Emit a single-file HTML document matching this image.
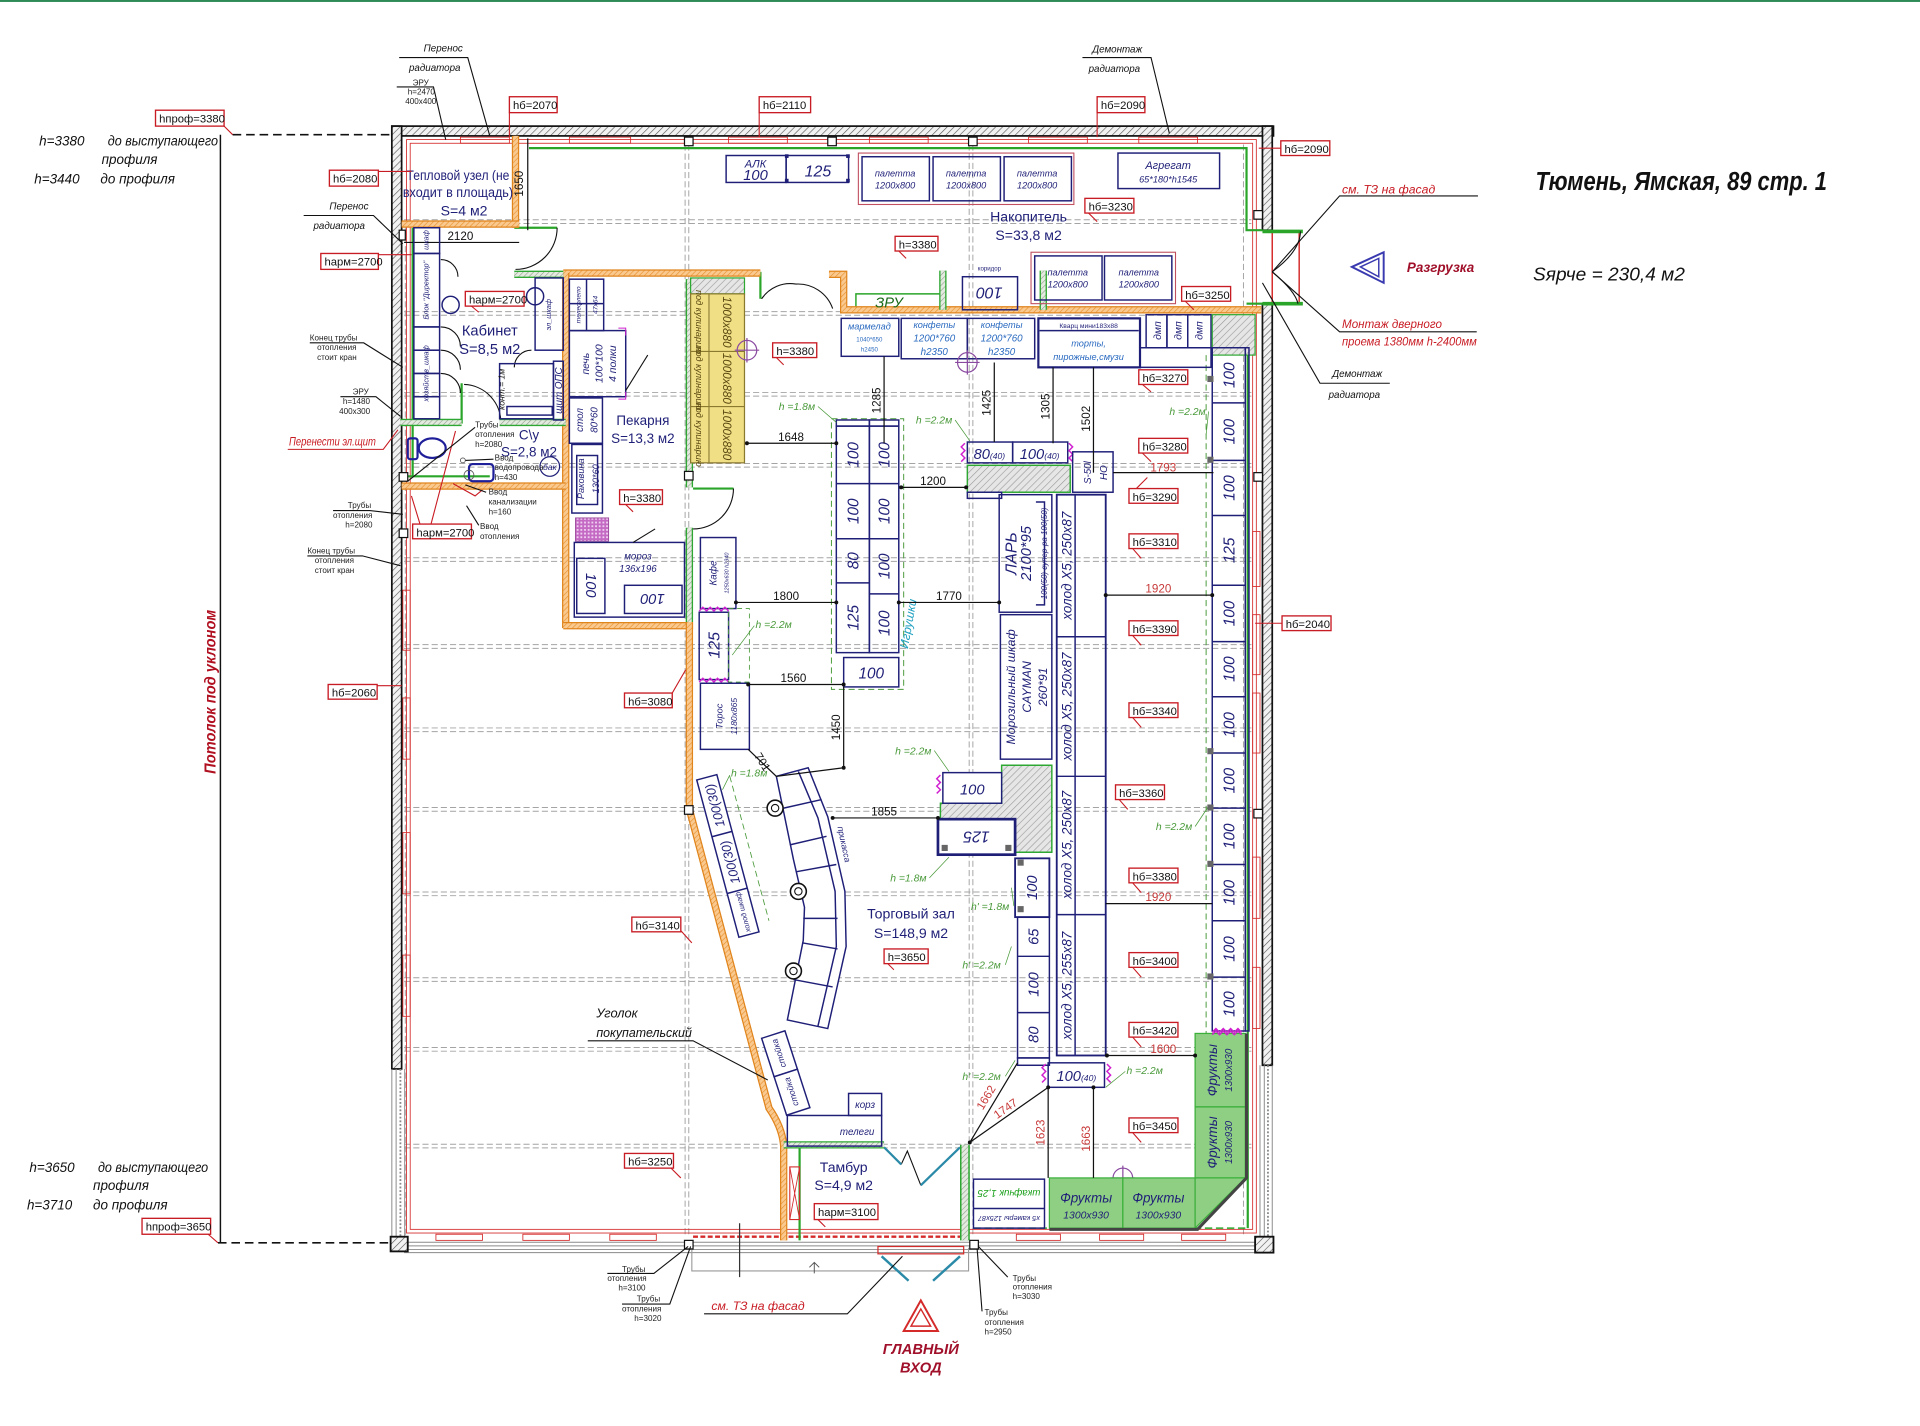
<!DOCTYPE html>
<html><head><meta charset="utf-8">
<style>
html,body{margin:0;padding:0;background:#fff;width:1920px;height:1426px;overflow:hidden}
svg{display:block}
text{font-family:"Liberation Sans","DejaVu Sans",sans-serif}
.tg rect{fill:#fff;stroke:#c81c24;stroke-width:1.1}
.tg text{font-size:9.2px;fill:#111}
.ld{stroke:#c81c24;stroke-width:0.9;fill:none}
.nv{fill:none;stroke:#1f1f78;stroke-width:1.2}
.nvf{fill:#fff;stroke:#1f1f78;stroke-width:1.2}
.nt{fill:#1f1f78;font-style:italic}
.dim{stroke:#111;stroke-width:1;fill:none}
.dt{font-size:9.5px;fill:#111}
.rt{font-size:9.5px;fill:#c83a3a}
.g{fill:#4a9a3a;font-style:italic;font-size:8.5px}
.gl{stroke:#4a9a3a;stroke-width:0.6;fill:none}
.grid{stroke:#a4a4a4;stroke-width:0.8;stroke-dasharray:5 2.5;fill:none}
.ann{font-size:6.6px;fill:#222}
.al{stroke:#111;stroke-width:0.9;fill:none}
.bl{font-style:italic;fill:#111}
.oo{fill:none;stroke:#e0841c;stroke-width:6}
.oi{fill:none;stroke:url(#ho);stroke-width:4}
.go{fill:none;stroke:#2ea832;stroke-width:6}
.gi{fill:none;stroke:url(#hgr);stroke-width:3.8}
.gt{fill:none;stroke:#2aa52a;stroke-width:1.8}
.red{fill:none;stroke:#d42a2a;stroke-width:0.7}
.col{fill:#fff;stroke:#111;stroke-width:1}
</style></head><body>
<svg xmlns="http://www.w3.org/2000/svg" width="1920" height="1426" viewBox="0 0 1568 1164.6" preserveAspectRatio="none">
<defs>
<pattern id="hx" width="4" height="4" patternUnits="userSpaceOnUse" patternTransform="rotate(45)"><rect width="4" height="4" fill="#f2f2f2"/><line x1="0" y1="0" x2="0" y2="4" stroke="#555" stroke-width="1"/></pattern>
<pattern id="ho" width="3" height="3" patternUnits="userSpaceOnUse" patternTransform="rotate(45)"><rect width="3" height="3" fill="#f9c98f"/><line x1="0" y1="0" x2="0" y2="3" stroke="#e8902c" stroke-width="1"/></pattern>
<pattern id="hgr" width="3" height="3" patternUnits="userSpaceOnUse" patternTransform="rotate(45)"><rect width="3" height="3" fill="#e4eae0"/><line x1="0" y1="0" x2="0" y2="3" stroke="#8a9a86" stroke-width="0.9"/></pattern>
<pattern id="hgy" width="4" height="4" patternUnits="userSpaceOnUse" patternTransform="rotate(45)"><rect width="4" height="4" fill="#e6e6e6"/><line x1="0" y1="0" x2="0" y2="4" stroke="#9a9a9a" stroke-width="1"/></pattern>
<pattern id="hpk" width="3" height="3" patternUnits="userSpaceOnUse"><rect width="3" height="3" fill="#c46ac4"/><rect x="0" y="0" width="1.5" height="1.5" fill="#efd0ef"/></pattern>
</defs>

<rect x="0" y="0" width="1568" height="1.6" fill="#2e8b57"/>

<!-- grid -->
<g class="grid">
<path d="M330,179.5H1022M330,182.5H1022 M330,254.5H1022M330,257.5H1022 M330,320.5H1022M330,323.5H1022 M330,378.5H1022M330,381.5H1022 M330,455.5H1022M330,458.5H1022 M330,526.5H1022M330,529.5H1022 M330,594.5H1022M330,597.5H1022 M330,659.5H1022M330,662.5H1022 M330,728.5H1022M330,731.5H1022 M330,798.5H1022M330,801.5H1022 M330,855.5H1022M330,858.5H1022 M330,934.5H1022M330,937.5H1022"/>
<path d="M331,186V1010 M559.5,118V1010M562.5,118V1010 M791.5,118V1010M794.5,118V1010 M1015.5,118V1010"/>
</g>

<!-- exterior walls -->
<rect x="320" y="103" width="720" height="8" fill="url(#hx)" stroke="#111" stroke-width="1.4"/>
<rect x="320" y="103" width="8" height="770" fill="url(#hx)" stroke="#111" stroke-width="1.4"/>
<rect x="1031" y="103" width="8" height="85" fill="url(#hx)" stroke="#111" stroke-width="1.4"/>
<rect x="1031" y="248" width="8" height="622" fill="url(#hx)" stroke="#111" stroke-width="1.4"/>
<g stroke="#8a8a8a" stroke-width="0.8" fill="none">
<path d="M320,873V1012M323.5,873V1012M330.5,873V1012"/>
<path d="M327,873V1012" stroke-dasharray="1.5 1.5" stroke-width="1.5"/>
<path d="M1029,870V1012M1032.5,870V1012M1039,870V1012"/>
<path d="M1035.5,870V1012" stroke-dasharray="1.5 1.5" stroke-width="1.5"/>
<path d="M330,1014.5H1026M330,1017.5H1026M330,1020.5H1026M330,1023H1026"/>
</g>
<rect x="319" y="1010" width="14" height="12" fill="url(#hx)" stroke="#111" stroke-width="1.5"/>
<rect x="1025" y="1010" width="15" height="13" fill="url(#hx)" stroke="#111" stroke-width="1.5"/>

<!-- red inner lines / radiators -->
<rect class="red" x="332" y="114" width="694" height="893"/>
<rect class="red" x="335" y="117" width="688" height="887"/>
<g class="red" stroke-width="0.9">
<rect x="376" y="112" width="40" height="5"/><rect x="465" y="112" width="50" height="5"/><rect x="595" y="112" width="48" height="5"/><rect x="710" y="112" width="48" height="5"/><rect x="840" y="112" width="48" height="5"/><rect x="930" y="112" width="48" height="5"/>
<rect x="329" y="482" width="6" height="49"/><rect x="329" y="570" width="6" height="50"/><rect x="329" y="680" width="6" height="50"/><rect x="329" y="780" width="6" height="50"/>
<rect x="1023" y="434" width="6" height="45"/><rect x="1023" y="502" width="6" height="49"/><rect x="1023" y="566" width="6" height="49"/><rect x="1023" y="700" width="6" height="50"/><rect x="1023" y="790" width="6" height="50"/>
<rect x="356" y="1008" width="38" height="5"/><rect x="427" y="1008" width="38" height="5"/><rect x="498" y="1008" width="38" height="5"/><rect x="830" y="1008" width="36" height="5"/><rect x="898" y="1008" width="36" height="5"/><rect x="965" y="1008" width="36" height="5"/>
<rect x="1039" y="189" width="22" height="59" stroke-width="1.2"/>
</g>
<path d="M566,1010H788" stroke="#d42a2a" stroke-width="2" stroke-dasharray="4 2"/>
<rect x="717" y="1018" width="70" height="6" fill="none" stroke="#d42a2a" stroke-width="1"/>
<path d="M565,1019V1038H791V1019" stroke="#999" stroke-width="0.9" fill="none"/>
<path d="M604,999V1043" stroke="#333" stroke-width="1"/>
<path d="M665,1040V1031M661,1035L665,1031L669,1035" stroke="#555" stroke-width="0.8" fill="none"/>

<!-- thin green lines -->
<g class="gt">
<path d="M432,121H1018V188H1031"/>
<path d="M1018,248H1031"/>
<path d="M1019,262V1003"/>
<path d="M337,186V390"/>
<path d="M330,389H400"/>
<path d="M420,186H455"/>
<path d="M566,399H599"/>
<path d="M621,222V244"/>
<path d="M653,937V1013"/>
<path d="M699,240H768V253H699Z" stroke-width="1.2"/>
<path d="M377,313V346"/>
</g>
<path d="M1031,189H1064M1031,248H1064" stroke="#2aa52a" stroke-width="3"/>
<path d="M795,1003H1019" stroke="#2aa52a" stroke-width="1.2" stroke-dasharray="6 3"/>
<path d="M985,290V845" stroke="#4a9a3a" stroke-width="0.8" stroke-dasharray="5 3"/>

<!-- door arcs -->
<g fill="none" stroke="#111" stroke-width="0.9">
<path d="M455,186A34,34 0 0 1 421,220"/>
<path d="M599,399A33,33 0 0 1 566,432"/>
<path d="M622,244A28,28 0 0 1 650,232M650,232A30,30 0 0 1 680,252"/>
<path d="M379,314A31,31 0 0 1 409,346"/>
<path d="M360,212A14,14 0 0 1 374,226M360,267A16,16 0 0 1 376,283M360,286A16,16 0 0 1 376,302M360,305A16,16 0 0 1 376,321"/>
<path d="M420,300A14,14 0 0 1 434,286"/>
<path d="M1039,222Q1062,205 1062,189M1039,222Q1058,238 1060,248"/>
<path d="M736,951L741,940L752,968"/>
</g>
<path d="M722,937L736,951M784,937L752,968" stroke="#2a8aa8" stroke-width="1.8"/>
<path d="M720,1026L742,1046M784,1026L762,1046" stroke="#2a8aa8" stroke-width="2"/>

<!-- orange walls -->
<g>
<path class="oo" d="M421,111V186"/><path class="oi" d="M421,111V186"/>
<path class="oo" d="M328,183H424"/><path class="oi" d="M328,183H424"/>
<path class="oo" d="M460,223H621"/><path class="oi" d="M460,223H621"/>
<path class="oo" d="M462,223V513"/><path class="oi" d="M462,223V513"/>
<path class="oo" d="M460,511H566"/><path class="oi" d="M460,511H566"/>
<path class="oo" d="M328,397H462"/><path class="oi" d="M328,397H462"/>
<path class="oo" d="M677,224H689V253H1030"/><path class="oi" d="M677,224H689V253H1030"/>
<path class="oo" d="M563,508V661L628,905Q639,921 640,936V1013"/><path class="oi" d="M563,508V661L628,905Q639,921 640,936V1013"/>
</g>
<!-- green hatched walls -->
<g>
<path class="go" d="M563,228V398"/><path class="gi" d="M563,228V398"/>
<path class="go" d="M563,431V508"/><path class="gi" d="M563,431V508"/>
<path class="go" d="M327,345H377"/><path class="gi" d="M327,345H377"/>
<path class="go" d="M408,345H462"/><path class="gi" d="M408,345H462"/>
<path class="go" d="M420,224H460"/><path class="gi" d="M420,224H460"/>
<path class="go" d="M640,935H722"/><path class="gi" d="M640,935H722"/>
<path class="go" d="M788,935V1013" style="stroke-width:8"/><path class="gi" d="M788,935V1013" style="stroke-width:5.5"/>
<path class="go" d="M770,221V253"/><path class="gi" d="M770,221V253"/>
<path class="go" d="M852,221V253"/><path class="gi" d="M852,221V253"/>
</g>

<!-- columns -->
<g class="col">
<rect x="559" y="112" width="7" height="7"/><rect x="676" y="112" width="7" height="7"/><rect x="791" y="112" width="7" height="7"/><rect x="1024" y="172" width="7" height="7"/>
<rect x="559" y="385" width="7" height="7"/><rect x="792" y="386" width="7" height="7"/><rect x="559" y="658" width="7" height="7"/><rect x="792" y="661" width="7" height="7"/>
<rect x="1024" y="386" width="7" height="7"/><rect x="1024" y="661" width="7" height="7"/><rect x="326" y="386" width="7" height="7"/><rect x="326" y="432" width="7" height="7"/>
<rect x="559" y="1013" width="7" height="7"/><rect x="792" y="1013" width="7" height="7"/><rect x="326" y="188" width="5" height="8"/>
</g>

<!-- ===== Storage ===== -->
<rect class="nv" x="593" y="127" width="49" height="22"/>
<text class="nt" x="617" y="137" font-size="9" text-anchor="middle">АЛК</text>
<text class="nt" x="617" y="147" font-size="12" text-anchor="middle">100</text>
<rect class="nv" x="642" y="127" width="51" height="22"/>
<text class="nt" x="668" y="144" font-size="13" text-anchor="middle">125</text>
<g fill="#1f1f78"><rect x="641" y="126" width="3" height="3"/><rect x="691" y="126" width="3" height="3"/><rect x="641" y="146" width="3" height="3"/><rect x="691" y="146" width="3" height="3"/></g>
<rect x="701" y="125" width="176" height="42" fill="none" stroke="#c05060" stroke-width="0.9"/>
<g class="nv"><rect x="704" y="128" width="55" height="36"/><rect x="762" y="128" width="55" height="36"/><rect x="820" y="128" width="55" height="36"/></g>
<g class="nt" font-size="7.5" text-anchor="middle">
<text x="731" y="144">палетта</text><text x="731" y="154">1200x800</text>
<text x="789" y="144">палетта</text><text x="789" y="154">1200x800</text>
<text x="847" y="144">палетта</text><text x="847" y="154">1200x800</text>
</g>
<rect class="nv" x="913" y="125" width="83" height="29"/>
<text class="nt" x="954" y="138" font-size="9" text-anchor="middle">Агрегат</text>
<text class="nt" x="954" y="149" font-size="7.5" text-anchor="middle">65*180*h1545</text>
<rect x="842" y="206" width="118" height="42" fill="none" stroke="#c05060" stroke-width="0.9"/>
<g class="nv"><rect x="845" y="209" width="55" height="36"/><rect x="902" y="209" width="55" height="36"/></g>
<g class="nt" font-size="7.5" text-anchor="middle">
<text x="872" y="225">палетта</text><text x="872" y="235">1200x800</text>
<text x="930" y="225">палетта</text><text x="930" y="235">1200x800</text>
</g>
<text x="840" y="181" font-size="11.5" fill="#1f1f78" text-anchor="middle">Накопитель</text>
<text x="840" y="196" font-size="11.5" fill="#1f1f78" text-anchor="middle">S=33,8 м2</text>
<text x="726" y="251" font-size="12" fill="#1a6a1a" font-style="italic" text-anchor="middle">ЗРУ</text>
<rect class="nv" x="786" y="226" width="45" height="27"/>
<text class="nt" font-size="13" text-anchor="middle" transform="translate(808,240) rotate(180)" dy="5">100</text>
<text x="808" y="221" font-size="5" fill="#1f1f78" text-anchor="middle">коридор</text>

<!-- top shelf row -->
<rect class="nv" x="687" y="260" width="47" height="31"/>
<text x="710" y="269" font-size="7.5" fill="#2a6ac0" font-style="italic" text-anchor="middle">мармелад</text>
<text x="710" y="279" font-size="5" fill="#2a6ac0" text-anchor="middle">1040*650</text>
<text x="710" y="287" font-size="5" fill="#2a6ac0" text-anchor="middle">h2450</text>
<rect class="nv" x="736" y="260" width="54" height="33"/><rect class="nv" x="790" y="260" width="55" height="33"/>
<g fill="#2a6ac0" font-style="italic" text-anchor="middle">
<text x="763" y="268" font-size="7.5">конфеты</text><text x="763" y="279" font-size="8">1200*760</text><text x="763" y="290" font-size="8">h2350</text>
<text x="818" y="268" font-size="7.5">конфеты</text><text x="818" y="279" font-size="8">1200*760</text><text x="818" y="290" font-size="8">h2350</text>
</g>
<rect x="848" y="260" width="83" height="40" fill="none" stroke="#1f1f78" stroke-width="1.8"/>
<path d="M849,270H930" class="nv"/>
<text x="889" y="268" font-size="5.5" fill="#1f1f78" text-anchor="middle">Кварц мини183x88</text>
<text x="889" y="283" font-size="7.5" fill="#2a6ac0" font-style="italic" text-anchor="middle">торты,</text>
<text x="889" y="294" font-size="7.5" fill="#2a6ac0" font-style="italic" text-anchor="middle">пирожные,смузи</text>
<g class="nv"><rect x="936" y="257" width="17" height="27"/><rect x="953" y="257" width="17" height="27"/><rect x="970" y="257" width="19" height="27"/><rect x="931" y="284" width="58" height="16"/></g>
<g class="nt" font-size="8.5" text-anchor="middle">
<text transform="translate(945,270) rotate(-90)" dy="3">дмп</text><text transform="translate(962,270) rotate(-90)" dy="3">дмп</text><text transform="translate(979,270) rotate(-90)" dy="3">дмп</text>
</g>
<rect x="990" y="257" width="35" height="33" fill="url(#hgy)" stroke="#2ea832" stroke-width="1"/>

<!-- right column shelves -->
<rect class="nv" x="990" y="284" width="27" height="558"/>
<rect class="nv" x="1017" y="284" width="3" height="558" stroke-width="0.8"/>
<path class="nv" d="M990,329H1017M990,376H1017M990,421H1017M990,478H1017M990,524H1017M990,569H1017M990,615H1017M990,660H1017M990,706H1017M990,752H1017M990,798H1017"/>
<g fill="#666"><rect x="986" y="307" width="5" height="5"/><rect x="986" y="373" width="5" height="5"/><rect x="986" y="611" width="5" height="5"/><rect x="986" y="657" width="5" height="5"/><rect x="986" y="703" width="5" height="5"/><rect x="986" y="795" width="5" height="5"/></g>
<g class="nt" font-size="12.5" text-anchor="middle">
<text transform="translate(1003.5,306.5) rotate(-90)" dy="4.5">100</text>
<text transform="translate(1003.5,352.5) rotate(-90)" dy="4.5">100</text>
<text transform="translate(1003.5,398.5) rotate(-90)" dy="4.5">100</text>
<text transform="translate(1003.5,449.5) rotate(-90)" dy="4.5">125</text>
<text transform="translate(1003.5,501) rotate(-90)" dy="4.5">100</text>
<text transform="translate(1003.5,546.5) rotate(-90)" dy="4.5">100</text>
<text transform="translate(1003.5,592) rotate(-90)" dy="4.5">100</text>
<text transform="translate(1003.5,637.5) rotate(-90)" dy="4.5">100</text>
<text transform="translate(1003.5,683) rotate(-90)" dy="4.5">100</text>
<text transform="translate(1003.5,729) rotate(-90)" dy="4.5">100</text>
<text transform="translate(1003.5,775) rotate(-90)" dy="4.5">100</text>
<text transform="translate(1003.5,820) rotate(-90)" dy="4.5">100</text>
</g>
<path d="M990,843l3,-3l3,3l3,-3l3,3l3,-3l3,3l3,-3l3,3" stroke="#d020d0" stroke-width="1.2" fill="none"/>

<!-- ===== Bakery / Pekarnya ===== -->
<rect x="564" y="227" width="44" height="13" fill="url(#hgy)" stroke="#2ea832" stroke-width="1"/>
<rect x="564" y="240" width="44" height="138" fill="#f1df86" stroke="#8a7a30" stroke-width="1"/>
<path d="M579,240V378M564,287H608M564,332H608" stroke="#8a7a30" stroke-width="0.9"/>
<g fill="#5a4a10" font-style="italic" text-anchor="middle">
<text transform="translate(571.5,263) rotate(90)" dy="3" font-size="7.5">под кулинарию</text>
<text transform="translate(571.5,309) rotate(90)" dy="3" font-size="7.5">под кулинарию</text>
<text transform="translate(571.5,355) rotate(90)" dy="3" font-size="7.5">под кулинарию</text>
<text transform="translate(594,263) rotate(90)" dy="3.5" font-size="9.5">1000x880</text>
<text transform="translate(594,309) rotate(90)" dy="3.5" font-size="9.5">1000x880</text>
<text transform="translate(594,355) rotate(90)" dy="3.5" font-size="9.5">1000x880</text>
</g>
<rect class="nv" x="465" y="228" width="28" height="42"/><path class="nv" d="M479,228V270M465,248H493"/>
<text class="nt" font-size="5.5" text-anchor="middle" transform="translate(472,249) rotate(-90)" dy="2">телефлепо</text>
<text class="nt" font-size="5.5" text-anchor="middle" transform="translate(486,249) rotate(-90)" dy="2">47x64</text>
<rect class="nv" x="465" y="270" width="46" height="54"/>
<path d="M505,268H511V274M505,326H511V320" stroke="#d020d0" stroke-width="0.8" fill="none"/>
<g class="nt" font-size="8.5" text-anchor="middle">
<text transform="translate(478,297) rotate(-90)" dy="3">печь</text>
<text transform="translate(489,297) rotate(-90)" dy="3">100*100</text>
<text transform="translate(500,297) rotate(-90)" dy="3">4 полки</text>
</g>
<path class="al" d="M511,319L529,290"/>
<rect class="nv" x="465" y="325" width="27" height="37"/>
<text class="nt" font-size="8" text-anchor="middle" transform="translate(473,343) rotate(-90)" dy="3">стол</text>
<text class="nt" font-size="8" text-anchor="middle" transform="translate(485,343) rotate(-90)" dy="3">80*60</text>
<rect class="nv" x="467" y="363" width="25" height="56"/><rect class="nv" x="471" y="372" width="17" height="40"/>
<text class="nt" font-size="7.5" text-anchor="middle" transform="translate(474,391) rotate(-90)" dy="3">Раковина</text>
<text class="nt" font-size="7.5" text-anchor="middle" transform="translate(486,391) rotate(-90)" dy="3">130*60</text>
<rect x="470" y="423" width="27" height="19" fill="url(#hpk)" stroke="#a050a0" stroke-width="0.8"/>
<rect class="nv" x="469" y="443" width="90" height="61"/>
<rect class="nv" x="471" y="456" width="23" height="45"/>
<rect class="nv" x="510" y="478" width="47" height="23"/>
<text class="nt" font-size="12" text-anchor="middle" transform="translate(482.5,478) rotate(90)" dy="4">100</text>
<text class="nt" font-size="12" text-anchor="middle" transform="translate(533,489) rotate(180)" dy="4">100</text>
<text class="nt" font-size="8" text-anchor="middle" x="521" y="457">мороз</text>
<text class="nt" font-size="8" text-anchor="middle" x="521" y="467">136x196</text>
<path class="al" d="M517,443L535,432"/>
<text x="525" y="347" font-size="11" fill="#1f1f78" text-anchor="middle">Пекарня</text>
<text x="525" y="362" font-size="11" fill="#1f1f78" text-anchor="middle">S=13,3 м2</text>

<!-- ===== Kabinet / SU / Teplovoy ===== -->
<text x="374" y="147" font-size="11.5" fill="#1f1f78" text-anchor="middle" textLength="84" lengthAdjust="spacingAndGlyphs">Тепловой узел (не</text>
<text x="374" y="161" font-size="11.5" fill="#1f1f78" text-anchor="middle" textLength="90" lengthAdjust="spacingAndGlyphs">входит в площадь)</text>
<text x="379" y="176" font-size="11.5" fill="#1f1f78" text-anchor="middle">S=4 м2</text>
<path class="dim" d="M431,113V188"/>
<text class="dt" text-anchor="middle" transform="translate(427,150) rotate(-90)">1650</text>
<path class="dim" d="M330,198H424"/>
<text class="dt" x="376" y="196" text-anchor="middle">2120</text>
<g class="nv">
<rect x="338" y="186" width="21" height="21"/><rect x="338" y="207" width="21" height="60"/><rect x="338" y="267" width="21" height="19"/><rect x="338" y="286" width="21" height="19"/><rect x="338" y="305" width="21" height="19"/><rect x="338" y="324" width="21" height="18"/>
<circle cx="368" cy="249" r="7"/>
<rect x="437" y="227" width="23" height="59"/><circle cx="437" cy="242" r="7"/>
<rect x="408" y="297" width="44" height="45"/><rect x="414" y="332" width="37" height="7"/>
<rect x="452" y="295" width="8" height="48"/>
</g>
<g class="nt" font-size="6" text-anchor="middle">
<text transform="translate(348,196) rotate(-90)" dy="2">шкаф</text>
<text transform="translate(348,237) rotate(-90)" dy="2">Блок "Директор"</text>
<text transform="translate(348,305) rotate(-90)" dy="2">хозяйств_шкаф</text>
<text transform="translate(448,257) rotate(-90)" dy="2">эл_шкаф</text>
<text transform="translate(456,319) rotate(-90)" dy="3" font-size="8">щит ОПС</text>
<text transform="translate(410,318) rotate(-90)" dy="2" font-size="7" fill="#111">конт.= 1м</text>
</g>
<text x="400" y="274" font-size="12" fill="#1f1f78" text-anchor="middle">Кабинет</text>
<text x="400" y="289" font-size="12" fill="#1f1f78" text-anchor="middle">S=8,5 м2</text>
<text x="432" y="359" font-size="11" fill="#1f1f78" text-anchor="middle">С\у</text>
<text x="432" y="373" font-size="11" fill="#1f1f78" text-anchor="middle">S=2,8 м2</text>
<g fill="none" stroke="#1f1f9a" stroke-width="1.8">
<rect x="333" y="358" width="8" height="17" rx="2"/><ellipse cx="353" cy="366" rx="11" ry="8"/>
<rect x="383" y="379" width="20" height="14" rx="3"/>
</g>
<circle cx="449" cy="381" r="8" fill="none" stroke="#1f1f78" stroke-width="1"/>
<text x="449" y="384" font-size="7" fill="#1f1f78" font-style="italic" text-anchor="middle">бак</text>

<!-- ===== Center gondolas ===== -->
<rect x="679" y="342" width="59" height="221" fill="none" stroke="#4a9a3a" stroke-width="0.8" stroke-dasharray="5 3"/>
<rect class="nv" x="683" y="348" width="27" height="185"/><rect class="nv" x="710" y="348" width="24" height="185"/>
<path class="nv" d="M683,395H710M683,440H710M683,476H710M710,395H734M710,440H734M710,485H734"/>
<g class="nv" stroke-width="0.8"><rect x="683" y="343" width="27" height="5"/><rect x="710" y="343" width="24" height="5"/></g>
<g class="nt" font-size="12.5" text-anchor="middle">
<text transform="translate(696.5,371.5) rotate(-90)" dy="4.5">100</text>
<text transform="translate(696.5,417.5) rotate(-90)" dy="4.5">100</text>
<text transform="translate(696.5,458) rotate(-90)" dy="4.5">80</text>
<text transform="translate(696.5,504.5) rotate(-90)" dy="4.5">125</text>
<text transform="translate(722,371.5) rotate(-90)" dy="4.5">100</text>
<text transform="translate(722,417.5) rotate(-90)" dy="4.5">100</text>
<text transform="translate(722,462.5) rotate(-90)" dy="4.5">100</text>
<text transform="translate(722,509) rotate(-90)" dy="4.5">100</text>
</g>
<rect class="nv" x="689" y="537" width="45" height="24"/>
<text class="nt" x="711.5" y="554" font-size="12.5" text-anchor="middle">100</text>
<text transform="translate(745,510) rotate(-80)" font-size="10" fill="#20a0c0" font-style="italic" text-anchor="middle">Игрушки</text>

<!-- left column (Kafe etc) -->
<rect class="nv" x="572" y="439" width="29" height="58"/>
<text class="nt" font-size="8" text-anchor="middle" transform="translate(582,468) rotate(-90)" dy="3">Кафе</text>
<text class="nt" font-size="4.5" text-anchor="middle" transform="translate(593,468) rotate(-90)" dy="2">1250x630 h2340</text>
<rect class="nv" x="571" y="500" width="24" height="55"/>
<text class="nt" font-size="13" text-anchor="middle" transform="translate(583,527) rotate(-90)" dy="4.5">125</text>
<path d="M571,499l3,-3l3,3l3,-3l3,3l3,-3l3,3l3,-3l3,3M571,557l3,-3l3,3l3,-3l3,3l3,-3l3,3l3,-3l3,3" stroke="#d020d0" stroke-width="1.2" fill="none"/>
<rect x="595" y="497" width="17" height="60" fill="none" stroke="#4a9a3a" stroke-width="0.7" stroke-dasharray="4 3"/>
<rect class="nv" x="572" y="558" width="40" height="54"/>
<text class="nt" font-size="7.5" text-anchor="middle" transform="translate(587,585) rotate(-90)" dy="3">Торос</text>
<text class="nt" font-size="7" text-anchor="middle" transform="translate(599,585) rotate(-90)" dy="3">1180x865</text>

<!-- crosshairs -->
<g fill="none" stroke="#8a4aa0" stroke-width="1">
<circle cx="610" cy="286" r="8"/><path d="M600,286H620M610,276V296"/>
<circle cx="790" cy="296" r="8"/><path d="M780,296H800M790,286V306"/>
<circle cx="917" cy="962" r="8"/><path d="M907,962H927M917,952V972"/>
</g>

<!-- 80/100(40) and chest etc -->
<rect class="nv" x="790" y="361" width="37" height="17"/><rect class="nv" x="827" y="361" width="45" height="17"/>
<text class="nt" x="808" y="375" font-size="12" text-anchor="middle">80<tspan font-size="7">(40)</tspan></text>
<text class="nt" x="849" y="375" font-size="12" text-anchor="middle">100<tspan font-size="7">(40)</tspan></text>
<path d="M788,362l-3,3l3,3l-3,3l3,3l-3,3M873,362l3,3l-3,3l3,3l-3,3l3,3" stroke="#d020d0" stroke-width="1.2" fill="none"/>
<rect x="790" y="380" width="84" height="22" fill="url(#hgy)" stroke="#2ea832" stroke-width="1.2"/>
<rect class="nv" x="790" y="402" width="28" height="5" stroke-width="0.8"/>
<rect class="nv" x="876" y="369" width="33" height="33"/>
<text class="nt" font-size="8" text-anchor="middle" transform="translate(888,386) rotate(-90)" dy="3">S-50l</text>
<text class="nt" font-size="8" text-anchor="middle" transform="translate(901,386) rotate(-90)" dy="3">НО</text>
<rect class="nv" x="816" y="404" width="43" height="96"/>
<path class="nv" d="M846,410H853V494H846" stroke-width="0.7"/>
<g class="nt" text-anchor="middle">
<text transform="translate(826,452) rotate(-90)" dy="4" font-size="13">ЛАРЬ</text>
<text transform="translate(838,452) rotate(-90)" dy="4" font-size="12">2100*95</text>
<text transform="translate(852,452) rotate(-90)" dy="3" font-size="6.5">100(50) супер-ра 100(50)</text>
</g>
<rect class="nv" x="817" y="502" width="42" height="118"/>
<g class="nt" text-anchor="middle">
<text transform="translate(825,561) rotate(-90)" dy="4" font-size="10">Морозильный шкаф</text>
<text transform="translate(838,561) rotate(-90)" dy="4" font-size="10">CAYMAN</text>
<text transform="translate(851,561) rotate(-90)" dy="4" font-size="10">260*91</text>
</g>
<rect x="863" y="404" width="40" height="458" fill="none" stroke="#1f1f78" stroke-width="1.5"/>
<path class="nv" d="M878,404V862M863,520H903M863,634H903M863,747H903"/>
<g class="nt" font-size="11" text-anchor="middle">
<text transform="translate(871,462) rotate(-90)" dy="4">холод X5, 250x87</text>
<text transform="translate(871,577) rotate(-90)" dy="4">холод X5, 250x87</text>
<text transform="translate(871,690) rotate(-90)" dy="4">холод X5, 250x87</text>
<text transform="translate(871,805) rotate(-90)" dy="4">холод X5, 255x87</text>
</g>

<!-- hatched L + 100 + 125 -->
<polygon points="768,656 818,656 818,625 859,625 859,696 829,696 829,669 768,669" fill="url(#hgy)" stroke="#2ea832" stroke-width="1.2"/>
<rect class="nvf" x="770" y="631" width="48" height="25"/>
<text class="nt" x="794" y="649" font-size="12" text-anchor="middle">100</text>
<path d="M768,633l-3,3l3,3l-3,3l3,3l-3,3" stroke="#d020d0" stroke-width="1.2" fill="none"/>
<rect x="766" y="669" width="63" height="29" fill="#fff" stroke="#1f1f78" stroke-width="2.2"/>
<text class="nt" font-size="13" text-anchor="middle" transform="translate(797.5,683.5) rotate(180)" dy="4.5">125</text>
<g fill="#666"><rect x="769" y="690" width="5" height="5"/><rect x="821" y="690" width="5" height="5"/><rect x="831" y="702" width="5" height="5"/><rect x="831" y="740" width="5" height="5"/></g>
<rect x="829" y="701" width="28" height="48" fill="none" stroke="#1f1f78" stroke-width="1.5"/>
<text class="nt" font-size="12" text-anchor="middle" transform="translate(843,725) rotate(-90)" dy="4">100</text>
<rect class="nv" x="831" y="749" width="26" height="115"/>
<path class="nv" d="M831,781H857M831,827H857"/>
<rect class="nv" x="831" y="864" width="26" height="6" stroke-width="0.8"/>
<g class="nt" font-size="12" text-anchor="middle">
<text transform="translate(844,765) rotate(-90)" dy="4">65</text>
<text transform="translate(844,804) rotate(-90)" dy="4">100</text>
<text transform="translate(844,845) rotate(-90)" dy="4">80</text>
</g>
<rect class="nv" x="856" y="868" width="46" height="20"/>
<text class="nt" x="879" y="883" font-size="12" text-anchor="middle">100<tspan font-size="7">(40)</tspan></text>
<path d="M854,869l-3,3l3,3l-3,3l3,3l-3,3M904,869l3,3l-3,3l3,3l-3,3l3,3" stroke="#d020d0" stroke-width="1.2" fill="none"/>

<!-- fruits -->
<g fill="#8fcf83" stroke="#3ab03a" stroke-width="1">
<rect x="976" y="844" width="41" height="60"/><rect x="976" y="904" width="41" height="58"/>
<rect x="857" y="962" width="60" height="41"/><rect x="917" y="962" width="59" height="41"/>
<polygon points="976,962 1017,962 976,1003"/>
</g>
<path d="M1018,844V962L978,1004H857" stroke="#444" stroke-width="2.5" fill="none"/>
<path d="M990,845l3,-3l3,3l3,-3l3,3l3,-3l3,3l3,-3l3,3" stroke="#d020d0" stroke-width="1.2" fill="none"/>
<g class="nt" text-anchor="middle">
<text transform="translate(990,874) rotate(-90)" dy="4" font-size="11">Фрукты</text>
<text transform="translate(1003,874) rotate(-90)" dy="3" font-size="8">1300x930</text>
<text transform="translate(990,933) rotate(-90)" dy="4" font-size="11">Фрукты</text>
<text transform="translate(1003,933) rotate(-90)" dy="3" font-size="8">1300x930</text>
<text x="887" y="982" font-size="11">Фрукты</text><text x="887" y="995" font-size="8.5">1300x930</text>
<text x="946" y="982" font-size="11">Фрукты</text><text x="946" y="995" font-size="8.5">1300x930</text>
</g>
<rect class="nv" x="795" y="963" width="58" height="40"/><path class="nv" d="M795,987H853"/>
<text font-size="8" fill="#1aa01a" font-style="italic" text-anchor="middle" transform="translate(824,975) rotate(180)" dy="3">шкафчик 1,25</text>
<text font-size="6" fill="#1f1f78" font-style="italic" text-anchor="middle" transform="translate(824,995) rotate(180)" dy="2">x5 камеры 125x87</text>

<!-- checkout -->
<polygon class="nvf" points="634,634 660,627 676,667 690,728 691,773 676,840 643,833 656,768 657,741 648,702"/>
<path class="nv" d="M652,630L668,668L682,728L683,773L668,838 M640,660L671,653 M645,690L675,683 M650,712L683,706 M656,750L684,750 M655,770L684,775 M648,800L680,806" stroke-width="1"/>
<g fill="#fff" stroke="#111" stroke-width="1.3">
<circle cx="633" cy="660" r="6.5"/><circle cx="652" cy="728" r="6.5"/><circle cx="648" cy="793" r="6.5"/>
</g>
<g fill="none" stroke="#111" stroke-width="0.9"><circle cx="633" cy="660" r="3"/><circle cx="652" cy="728" r="3"/><circle cx="648" cy="793" r="3"/></g>
<text transform="translate(687,690) rotate(78)" font-size="7" fill="#1f1f78" font-style="italic" text-anchor="middle">прикасса</text>
<g transform="translate(569,637) rotate(-15)">
<rect class="nvf" x="0" y="0" width="17" height="133"/>
<path class="nv" d="M0,48H17M0,96H17"/>
<text class="nt" font-size="10.5" text-anchor="middle" transform="translate(8.5,24) rotate(-90)" dy="4">100(30)</text>
<text class="nt" font-size="10.5" text-anchor="middle" transform="translate(8.5,72) rotate(-90)" dy="4">100(30)</text>
<text class="nt" font-size="6" text-anchor="middle" transform="translate(8.5,114) rotate(-90)" dy="2">холод шкаф</text>
</g>
<path d="M596,634L628,752" stroke="#4a9a3a" stroke-width="0.7" stroke-dasharray="5 3"/>
<g transform="translate(622,848) rotate(-18)">
<rect class="nvf" x="0" y="0" width="20" height="33"/><rect class="nvf" x="0" y="33" width="20" height="33"/>
<text class="nt" font-size="7" text-anchor="middle" transform="translate(10,16) rotate(-90)" dy="2">стойка</text>
<text class="nt" font-size="7" text-anchor="middle" transform="translate(10,49) rotate(-90)" dy="2">стойка</text>
</g>
<rect class="nv" x="693" y="893" width="27" height="18"/>
<text class="nt" x="706.5" y="905" font-size="8" text-anchor="middle">корз</text>
<rect class="nv" x="643" y="911" width="77" height="25"/>
<text class="nt" x="700" y="927" font-size="8" text-anchor="middle">телеги</text>
<rect x="645" y="953" width="8" height="43" fill="none" stroke="#d42a2a" stroke-width="0.9"/>
<path d="M645,953L653,996M653,953L645,996" stroke="#d42a2a" stroke-width="0.7"/>

<text x="744" y="750" font-size="11.5" fill="#1f1f78" text-anchor="middle">Торговый зал</text>
<text x="744" y="766" font-size="11.5" fill="#1f1f78" text-anchor="middle">S=148,9 м2</text>
<text x="689" y="957" font-size="11.5" fill="#1f1f78" text-anchor="middle">Тамбур</text>
<text x="689" y="972" font-size="11.5" fill="#1f1f78" text-anchor="middle">S=4,9 м2</text>

<!-- dimensions -->
<g class="dim">
<path d="M610,362H683M722,291V362M812,296V361M860,300V362M893,300V386M909,386H991M736,398H789"/>
<path d="M601,492H683M734,492H816M611,559H689M689,561V627M611,612L634,634L689,627"/>
<path d="M680,668H766M903,486H990M903,738H990M904,862H976M856,888V962M893,888V962M792,933L831,868M792,933L856,888"/>
</g>
<g fill="#111"><circle cx="610" cy="362" r="1.6"/><circle cx="683" cy="362" r="1.6"/><circle cx="601" cy="492" r="1.6"/><circle cx="683" cy="492" r="1.6"/><circle cx="734" cy="492" r="1.6"/><circle cx="816" cy="492" r="1.6"/><circle cx="611" cy="559" r="1.6"/><circle cx="689" cy="559" r="1.6"/><circle cx="689" cy="627" r="1.6"/><circle cx="680" cy="668" r="1.6"/><circle cx="766" cy="668" r="1.6"/><circle cx="736" cy="398" r="1.6"/><circle cx="789" cy="398" r="1.6"/><circle cx="903" cy="486" r="1.6"/><circle cx="990" cy="486" r="1.6"/><circle cx="856" cy="888" r="1.6"/><circle cx="893" cy="888" r="1.6"/><circle cx="792" cy="933" r="1.6"/><circle cx="976" cy="862" r="1.6"/><circle cx="904" cy="862" r="1.6"/></g>
<text class="dt" x="646" y="360" text-anchor="middle">1648</text>
<text class="dt" text-anchor="middle" transform="translate(719,327) rotate(-90)">1285</text>
<text class="dt" text-anchor="middle" transform="translate(809,329) rotate(-90)">1425</text>
<text class="dt" text-anchor="middle" transform="translate(857,332) rotate(-90)">1305</text>
<text class="dt" text-anchor="middle" transform="translate(890,342) rotate(-90)">1502</text>
<text class="rt" x="950" y="385" text-anchor="middle">1793</text>
<text class="dt" x="762" y="396" text-anchor="middle">1200</text>
<text class="dt" x="642" y="490" text-anchor="middle">1800</text>
<text class="dt" x="775" y="490" text-anchor="middle">1770</text>
<text class="dt" x="648" y="557" text-anchor="middle">1560</text>
<text class="dt" text-anchor="middle" transform="translate(686,594) rotate(-90)">1450</text>
<text class="dt" text-anchor="middle" transform="translate(620,624) rotate(58)">701</text>
<text class="dt" x="722" y="666" text-anchor="middle">1855</text>
<text class="rt" x="946" y="484" text-anchor="middle">1920</text>
<text class="rt" x="946" y="736" text-anchor="middle">1920</text>
<text class="rt" x="950" y="860" text-anchor="middle">1600</text>
<text class="rt" text-anchor="middle" transform="translate(853,925) rotate(-90)">1623</text>
<text class="rt" text-anchor="middle" transform="translate(890,930) rotate(-90)">1663</text>
<text class="rt" text-anchor="middle" transform="translate(808,898) rotate(-59)">1662</text>
<text class="rt" text-anchor="middle" transform="translate(823,908) rotate(-35)">1747</text>

<!-- green h labels -->
<g>
<text class="g" x="636" y="335">h =1.8м</text><path class="gl" d="M668,332L683,345"/>
<text class="g" x="748" y="346">h =2.2м</text><path class="gl" d="M780,343L792,360"/>
<text class="g" x="955" y="339">h =2.2м</text><path class="gl" d="M987,336L985,355"/>
<text class="g" x="617" y="513">h =2.2м</text><path class="gl" d="M616,511L598,535"/>
<text class="g" x="731" y="616">h =2.2м</text><path class="gl" d="M763,613L775,630"/>
<text class="g" x="597" y="634">h =1.8м</text><path class="gl" d="M596,633L590,645"/>
<text class="g" x="727" y="720">h =1.8м</text><path class="gl" d="M759,717L775,700"/>
<text class="g" x="793" y="743">h' =1.8м</text><path class="gl" d="M828,740L826,725"/>
<text class="g" x="786" y="791">h' =2.2м</text><path class="gl" d="M821,788L826,773"/>
<text class="g" x="944" y="678">h =2.2м</text><path class="gl" d="M976,675L986,660"/>
<text class="g" x="786" y="882">h' =2.2м</text><path class="gl" d="M821,879L829,866"/>
<text class="g" x="920" y="877">h =2.2м</text><path class="gl" d="M919,875L903,888"/>
</g>

<!-- ===== red tags ===== -->
<g class="tg">
<rect x="127" y="90" width="56" height="13"/><text x="130" y="100">hпроф=3380</text>
<rect x="116" y="995" width="56" height="13"/><text x="119" y="1005">hпроф=3650</text>
<rect x="416" y="79" width="39" height="13"/><text x="419" y="89">hб=2070</text>
<rect x="620" y="79" width="42" height="13"/><text x="623" y="89">hб=2110</text>
<rect x="896" y="79" width="39" height="13"/><text x="899" y="89">hб=2090</text>
<rect x="1046" y="115" width="40" height="12"/><text x="1049" y="125">hб=2090</text>
<rect x="269" y="139" width="40" height="13"/><text x="272" y="149">hб=2080</text>
<rect x="262" y="207" width="47" height="13"/><text x="265" y="217">hарм=2700</text>
<rect x="380" y="238" width="48" height="12"/><text x="383" y="248">hарм=2700</text>
<rect x="337" y="428" width="48" height="12"/><text x="340" y="438">hарм=2700</text>
<rect x="506" y="400" width="35" height="12"/><text x="509" y="410">h=3380</text>
<rect x="510" y="566" width="39" height="12"/><text x="513" y="576">hб=3080</text>
<rect x="268" y="559" width="40" height="12"/><text x="271" y="569">hб=2060</text>
<rect x="516" y="749" width="40" height="12"/><text x="519" y="759">hб=3140</text>
<rect x="510" y="942" width="40" height="12"/><text x="513" y="952">hб=3250</text>
<rect x="665" y="983" width="52" height="13"/><text x="668" y="993">hарм=3100</text>
<rect x="722" y="775" width="36" height="12"/><text x="725" y="785">h=3650</text>
<rect x="631" y="280" width="36" height="12"/><text x="634" y="290">h=3380</text>
<rect x="731" y="193" width="35" height="12"/><text x="734" y="203">h=3380</text>
<rect x="886" y="162" width="40" height="12"/><text x="889" y="172">hб=3230</text>
<rect x="965" y="234" width="40" height="12"/><text x="968" y="244">hб=3250</text>
<rect x="930" y="302" width="40" height="12"/><text x="933" y="312">hб=3270</text>
<rect x="930" y="358" width="40" height="12"/><text x="933" y="368">hб=3280</text>
<rect x="922" y="399" width="40" height="12"/><text x="925" y="409">hб=3290</text>
<rect x="922" y="436" width="40" height="12"/><text x="925" y="446">hб=3310</text>
<rect x="922" y="507" width="40" height="12"/><text x="925" y="517">hб=3390</text>
<rect x="922" y="574" width="40" height="12"/><text x="925" y="584">hб=3340</text>
<rect x="911" y="641" width="40" height="12"/><text x="914" y="651">hб=3360</text>
<rect x="922" y="709" width="40" height="12"/><text x="925" y="719">hб=3380</text>
<rect x="922" y="778" width="40" height="12"/><text x="925" y="788">hб=3400</text>
<rect x="922" y="835" width="40" height="12"/><text x="925" y="845">hб=3420</text>
<rect x="922" y="913" width="40" height="12"/><text x="925" y="923">hб=3450</text>
<rect x="1047" y="503" width="40" height="12"/><text x="1050" y="513">hб=2040</text>
</g>
<g class="ld">
<path d="M183,103L190,110"/><path d="M170,1008L178,1015"/>
<path d="M416,92V112"/><path d="M620,92V112"/><path d="M896,92V112"/>
<path d="M1046,121H1028"/><path d="M309,140H336"/><path d="M309,208H336"/>
<path d="M385,250L391,255"/><path d="M352,428L372,352M343,428L336,405"/>
<path d="M511,412L517,418"/><path d="M549,566L560,547"/><path d="M308,560H328"/>
<path d="M556,760L565,770"/><path d="M548,954L556,962"/><path d="M668,996L674,1002"/>
<path d="M725,787L730,792"/><path d="M634,292L640,298"/><path d="M734,205L740,211"/>
<path d="M889,174L896,181"/><path d="M968,246L975,253"/><path d="M933,314L940,320"/>
<path d="M933,370L940,377"/><path d="M928,399L937,390"/><path d="M925,448L932,456"/>
<path d="M925,519L932,527"/><path d="M925,586L932,594"/><path d="M914,653L921,661"/>
<path d="M925,721L932,729"/><path d="M925,790L932,798"/><path d="M925,847L932,855"/>
<path d="M925,925L932,933"/><path d="M1047,509H1025"/>
<path d="M370,395L388,405L394,400"/>
</g>

<!-- ceiling profile lines -->
<path d="M190,110H320M178,1015H320" stroke="#111" stroke-width="1.4" stroke-dasharray="7 4"/>
<path d="M180,110V1015" stroke="#111" stroke-width="1.2"/>
<text transform="translate(176,565) rotate(-90)" font-size="13" font-weight="bold" font-style="italic" fill="#b01020" text-anchor="middle" textLength="134" lengthAdjust="spacingAndGlyphs">Потолок под уклоном</text>

<!-- left texts -->
<g class="bl" font-size="11">
<text x="32" y="119">h=3380</text><text x="88" y="119" textLength="90" lengthAdjust="spacingAndGlyphs">до выступающего</text>
<text x="83" y="134">профиля</text>
<text x="28" y="150">h=3440</text><text x="82" y="150">до профиля</text>
<text x="24" y="957">h=3650</text><text x="80" y="957" textLength="90" lengthAdjust="spacingAndGlyphs">до выступающего</text>
<text x="76" y="972">профиля</text>
<text x="22" y="988">h=3710</text><text x="76" y="988">до профиля</text>
</g>

<!-- annotations top -->
<g class="bl" font-size="8">
<text x="346" y="42">Перенос</text><text x="334" y="58">радиатора</text>
<text x="892" y="43">Демонтаж</text><text x="889" y="59">радиатора</text>
<text x="269" y="171">Перенос</text><text x="256" y="187">радиатора</text>
<text x="1088" y="308">Демонтаж</text><text x="1085" y="325">радиатора</text>
</g>
<g class="al">
<path d="M326,47H382L400,111"/><path d="M884,47H940L955,109"/>
<path d="M248,176H305L329,199"/>
<path d="M1135,313H1078L1031,231"/>
<path d="M324,71H354L364,114"/>
</g>
<g class="ann">
<text x="337" y="70">ЭРУ</text><text x="333" y="77">h=2470</text><text x="331" y="85">400x400</text>
<text x="253" y="278">Конец трубы</text><text x="259" y="286">отопления</text><text x="259" y="294">стоит кран</text>
<text x="288" y="322">ЭРУ</text><text x="280" y="330">h=1480</text><text x="277" y="338">400x300</text>
<text x="284" y="415">Трубы</text><text x="272" y="423">отопления</text><text x="282" y="431">h=2080</text>
<text x="251" y="452">Конец трубы</text><text x="257" y="460">отопления</text><text x="257" y="468">стоит кран</text>
<text x="388" y="349">Трубы</text><text x="388" y="357">отопления</text><text x="388" y="365">h=2080</text>
<text x="404" y="376">Ввод</text><text x="404" y="384">водопровода</text><text x="404" y="392">h=430</text>
<text x="399" y="404">Ввод</text><text x="399" y="412">канализации</text><text x="399" y="420">h=160</text>
<text x="392" y="432">Ввод</text><text x="392" y="440">отопления</text>
<text x="508" y="1039">Трубы</text><text x="496" y="1046">отопления</text><text x="505" y="1054">h=3100</text>
<text x="520" y="1063">Трубы</text><text x="508" y="1071">отопления</text><text x="518" y="1079">h=3020</text>
<text x="827" y="1046">Трубы</text><text x="827" y="1053">отопления</text><text x="827" y="1061">h=3030</text>
<text x="804" y="1074">Трубы</text><text x="804" y="1082">отопления</text><text x="804" y="1090">h=2950</text>
</g>
<g class="al" stroke-width="0.8">
<path d="M253,280H297L329,300"/><path d="M278,324H307L327,340"/><path d="M272,417H302L329,420"/>
<path d="M251,454H296L327,462"/><path d="M388,349L333,393"/><path d="M403,375L380,376"/>
<path d="M397,402L380,396"/><path d="M391,429L381,413"/>
<path d="M496,1040H534L562,1018"/><path d="M508,1065H547L564,1018"/>
<path d="M823,1043L799,1018"/><path d="M802,1071L798,1020"/>
</g>
<circle cx="378" cy="376" r="2" fill="none" stroke="#555" stroke-width="0.7"/>
<circle cx="383" cy="388" r="4" fill="none" stroke="#555" stroke-width="0.7"/>
<text x="236" y="364" font-size="9.5" font-style="italic" fill="#c81c24" textLength="71" lengthAdjust="spacingAndGlyphs">Перенести эл.щит</text>
<path d="M235,367H313L325,351" stroke="#c81c24" stroke-width="0.9" fill="none"/>

<text x="487" y="831" font-size="10.5" class="bl">Уголок</text>
<text x="487" y="847" font-size="10.5" class="bl" textLength="78" lengthAdjust="spacingAndGlyphs">покупательский</text>
<path class="al" d="M480,850H566L627,882"/>

<!-- bottom entrance -->
<text x="581" y="1070" font-size="10" font-style="italic" fill="#c81c24">см. ТЗ на фасад</text>
<path d="M575,1073H692L737,1026" stroke="#111" stroke-width="0.9" fill="none"/>
<polygon points="752,1062 766,1087 738,1087" fill="none" stroke="#d42a2a" stroke-width="1.6"/>
<polygon points="752,1069 760,1083 744,1083" fill="none" stroke="#d42a2a" stroke-width="1.2"/>
<text x="752" y="1106" font-size="12" font-weight="bold" font-style="italic" fill="#a0102a" text-anchor="middle">ГЛАВНЫЙ</text>
<text x="752" y="1121" font-size="12" font-weight="bold" font-style="italic" fill="#a0102a" text-anchor="middle">ВХОД</text>

<!-- right side -->
<text x="1096" y="158" font-size="10" font-style="italic" fill="#c81c24">см. ТЗ на фасад</text>
<path d="M1207,160H1094L1039,222" stroke="#111" stroke-width="0.9" fill="none"/>
<text x="1096" y="268" font-size="9.5" font-style="italic" fill="#c81c24">Монтаж дверного</text>
<text x="1096" y="282" font-size="9.5" font-style="italic" fill="#c81c24" textLength="110" lengthAdjust="spacingAndGlyphs">проема 1380мм h-2400мм</text>
<path d="M1206,271H1094L1039,222" stroke="#111" stroke-width="0.9" fill="none"/>
<polygon points="1104,218 1130,206 1130,231" fill="none" stroke="#3a3ab0" stroke-width="1.6"/>
<polygon points="1111,218 1126,211 1126,226" fill="none" stroke="#3a3ab0" stroke-width="1.2"/>
<text x="1149" y="222" font-size="11" font-weight="bold" font-style="italic" fill="#a0102a">Разгрузка</text>
<text x="1254" y="155" font-size="21" font-weight="bold" font-style="italic" fill="#111" textLength="238" lengthAdjust="spacingAndGlyphs">Тюмень, Ямская, 89 стр. 1</text>
<text x="1252" y="229" font-size="15" font-style="italic" fill="#111" textLength="124" lengthAdjust="spacingAndGlyphs">Sярче = 230,4 м2</text>
</svg>
</body></html>
